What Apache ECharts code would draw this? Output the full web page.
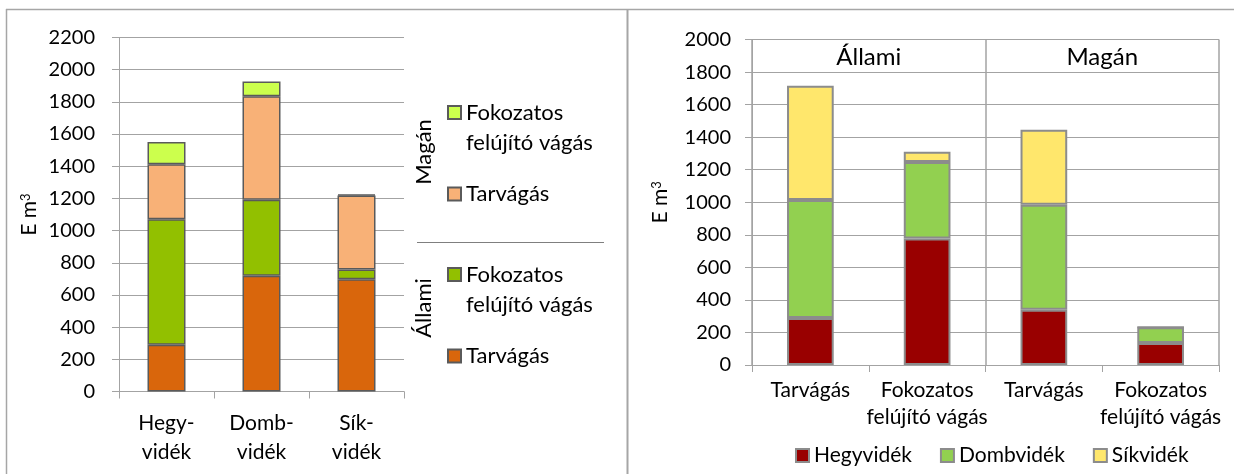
<!DOCTYPE html>
<html>
<head>
<meta charset="utf-8">
<script src="https://cdn.jsdelivr.net/npm/echarts@6/dist/echarts.min.js"></script>
<style>
html,body{margin:0;padding:0;background:#fff;}
#chart{width:1234px;height:474px;}
</style>
</head>
<body>
<div id="chart"></div>
<script>
// ---- Left chart data ----
const leftCategories = ['Hegy-\nvidék', 'Domb-\nvidék', 'Sík-\nvidék'];
const allamiTarvagas = [290, 720, 697];
const allamiFokozatos = [780, 472, 61];
const maganTarvagas = [342, 643, 460];
const maganFokozatos = [138, 91, 6];
const leftTicks = { min: 0, max: 2200, interval: 200 };

// ---- Right chart data ----
const rightCategories = ['Tarvágás', 'Fokozatos\nfelújító vágás', 'Tarvágás', 'Fokozatos\nfelújító vágás'];
const rightGroups = ['Állami', 'Magán'];
const hegyvidek = [289, 778, 340, 135];
const dombvidek = [725, 469, 645, 97];
const sikvidek = [702, 64, 461, 0];
const rightTicks = { min: 0, max: 2000, interval: 200 };

const FONT = 'Lato';
const GRID = '#a3a3a3';
const TXT = '#000';

const chart = echarts.init(document.getElementById('chart'), null, { renderer: 'canvas' });

const leftBorder = { borderColor: '#5a5a5a', borderWidth: 1.5 };
const rightBorder = { borderColor: '#8c8c8c', borderWidth: 2 };
const plain = v => String(v);
const nameStyle = {
  color: TXT, fontSize: 21, fontFamily: FONT,
  rich: { sup: { fontSize: 13, verticalAlign: 'top', color: TXT, fontFamily: FONT } }
};

const option = {
  backgroundColor: '#fff',
  textStyle: { fontFamily: FONT },
  animation: false,
  grid: [
    { left: 119, top: 37.5, width: 285, height: 354 },
    { left: 752, top: 39.5, width: 467, height: 325.5 }
  ],
  xAxis: [
    {
      gridIndex: 0, type: 'category', data: leftCategories,
      axisLine: { lineStyle: { color: GRID, width: 1 } },
      axisTick: { show: true, length: 7, lineStyle: { color: GRID } },
      axisLabel: { color: TXT, fontSize: 21, lineHeight: 29, margin: 17, fontFamily: FONT, interval: 0 }
    },
    {
      gridIndex: 1, type: 'category', data: rightCategories,
      axisLine: { lineStyle: { color: GRID, width: 1 } },
      axisTick: { show: true, length: 7, lineStyle: { color: GRID } },
      axisLabel: { color: TXT, fontSize: 21, lineHeight: 27, margin: 12, fontFamily: FONT, interval: 0 }
    },
    {
      gridIndex: 1, type: 'category', data: rightGroups, position: 'top',
      axisLine: { show: false },
      axisTick: { show: false },
      axisLabel: { inside: true, color: TXT, fontSize: 24, margin: 6, fontFamily: FONT },
      splitLine: { show: true, lineStyle: { color: GRID, width: 1.5 } }
    }
  ],
  yAxis: [
    {
      gridIndex: 0, type: 'value', min: leftTicks.min, max: leftTicks.max, interval: leftTicks.interval,
      name: 'E m{sup|3}', nameLocation: 'middle', nameGap: 79, nameRotate: 90,
      nameTextStyle: nameStyle,
      axisLine: { show: true, lineStyle: { color: GRID, width: 1 } },
      axisTick: { show: true, length: 7, lineStyle: { color: GRID } },
      axisLabel: { color: TXT, fontSize: 20, margin: 24, fontFamily: FONT, formatter: plain },
      splitLine: { lineStyle: { color: GRID, width: 1 } }
    },
    {
      gridIndex: 1, type: 'value', min: rightTicks.min, max: rightTicks.max, interval: rightTicks.interval,
      name: 'E m{sup|3}', nameLocation: 'middle', nameGap: 81, nameRotate: 90,
      nameTextStyle: nameStyle,
      axisLine: { show: true, lineStyle: { color: GRID, width: 1 } },
      axisTick: { show: true, length: 7, lineStyle: { color: GRID } },
      axisLabel: { color: TXT, fontSize: 20, margin: 21, fontFamily: FONT, formatter: plain },
      splitLine: { lineStyle: { color: GRID, width: 1 } }
    }
  ],
  legend: [
    {
      data: ['Magán – Fokozatos felújító vágás'], left: 447, top: 67.5, padding: 0, icon: 'rect',
      itemWidth: 13, itemHeight: 13, selectedMode: false,
      formatter: () => ' \nFokozatos\nfelújító vágás',
      textStyle: { color: TXT, fontSize: 22, lineHeight: 30, fontFamily: FONT }
    },
    {
      data: ['Magán – Tarvágás'], left: 447, top: 183, padding: 0, icon: 'rect',
      itemWidth: 13, itemHeight: 13, selectedMode: false,
      formatter: () => 'Tarvágás',
      textStyle: { color: TXT, fontSize: 22, fontFamily: FONT }
    },
    {
      data: ['Állami – Fokozatos felújító vágás'], left: 447, top: 229.5, padding: 0, icon: 'rect',
      itemWidth: 13, itemHeight: 13, selectedMode: false,
      formatter: () => ' \nFokozatos\nfelújító vágás',
      textStyle: { color: TXT, fontSize: 22, lineHeight: 30, fontFamily: FONT }
    },
    {
      data: ['Állami – Tarvágás'], left: 447, top: 345, padding: 0, icon: 'rect',
      itemWidth: 13, itemHeight: 13, selectedMode: false,
      formatter: () => 'Tarvágás',
      textStyle: { color: TXT, fontSize: 22, fontFamily: FONT }
    },
    {
      data: ['Hegyvidék', 'Dombvidék', 'Síkvidék'], left: 795, top: 445, padding: 0, icon: 'rect',
      itemWidth: 13, itemHeight: 13, itemGap: 28, selectedMode: false,
      textStyle: { color: TXT, fontSize: 21, fontFamily: FONT }
    }
  ],
  series: [
    { name: 'Állami – Tarvágás', type: 'bar', stack: 'L', xAxisIndex: 0, yAxisIndex: 0, barWidth: '40%',
      data: allamiTarvagas, itemStyle: Object.assign({ color: '#d9660c' }, leftBorder) },
    { name: 'Állami – Fokozatos felújító vágás', type: 'bar', stack: 'L', xAxisIndex: 0, yAxisIndex: 0, barWidth: '40%',
      data: allamiFokozatos, itemStyle: Object.assign({ color: '#92c000' }, leftBorder) },
    { name: 'Magán – Tarvágás', type: 'bar', stack: 'L', xAxisIndex: 0, yAxisIndex: 0, barWidth: '40%',
      data: maganTarvagas, itemStyle: Object.assign({ color: '#f8b177' }, leftBorder) },
    { name: 'Magán – Fokozatos felújító vágás', type: 'bar', stack: 'L', xAxisIndex: 0, yAxisIndex: 0, barWidth: '40%',
      data: maganFokozatos, itemStyle: Object.assign({ color: '#ccff4d' }, leftBorder) },

    { name: 'Hegyvidék', type: 'bar', stack: 'R', xAxisIndex: 1, yAxisIndex: 1, barWidth: '40%',
      data: hegyvidek, itemStyle: Object.assign({ color: '#990000' }, rightBorder) },
    { name: 'Dombvidék', type: 'bar', stack: 'R', xAxisIndex: 1, yAxisIndex: 1, barWidth: '40%',
      data: dombvidek, itemStyle: Object.assign({ color: '#92d050' }, rightBorder) },
    { name: 'Síkvidék', type: 'bar', stack: 'R', xAxisIndex: 1, yAxisIndex: 1, barWidth: '40%',
      data: sikvidek, itemStyle: Object.assign({ color: '#ffe76c' }, rightBorder) }
  ],
  graphic: [
    // panel borders
    { type: 'line', shape: { x1: 6, y1: 9.5, x2: 1234, y2: 9.5 }, style: { stroke: '#a6a6a6', lineWidth: 1.5 }, silent: true },
    { type: 'line', shape: { x1: 6.5, y1: 9, x2: 6.5, y2: 474 }, style: { stroke: '#a6a6a6', lineWidth: 1.5 }, silent: true },
    { type: 'line', shape: { x1: 627.5, y1: 9, x2: 627.5, y2: 474 }, style: { stroke: '#a6a6a6', lineWidth: 2 }, silent: true },
    // left legend group labels and separator
    { type: 'line', shape: { x1: 417, y1: 242.5, x2: 604, y2: 242.5 }, style: { stroke: '#7f7f7f', lineWidth: 1 }, silent: true },
    { type: 'text', x: 424, y: 152, rotation: Math.PI / 2,
      style: { text: 'Magán', fill: TXT, font: '22px ' + FONT, align: 'center', verticalAlign: 'middle' } },
    { type: 'text', x: 424, y: 308, rotation: Math.PI / 2,
      style: { text: 'Állami', fill: TXT, font: '22px ' + FONT, align: 'center', verticalAlign: 'middle' } }
  ]
};

chart.setOption(option);
</script>
</body>
</html>
